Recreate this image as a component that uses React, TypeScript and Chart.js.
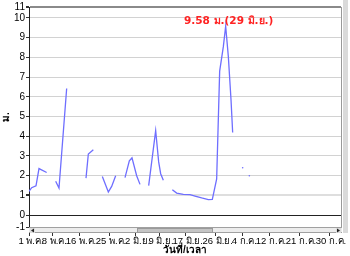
import React, { useEffect, useRef } from "react";
import { Chart, registerables } from "chart.js";

Chart.register(...registerables);

// days since 1 May (0 = 1 พ.ค.), null value = gap in record
const dayOffsets = [
  0, 0.8, 2.1, 3.0, 5.3, 6.5,
  8.0, 9.0, 11.3, 14,
  17.1, 17.8, 19.3, 20.5,
  22.0, 23.8, 24.8, 26.0, 27.5,
  28.8, 30.1, 30.9, 32.3, 33.3, 34.5,
  35.9, 38.0, 38.9, 39.5, 40.3, 41.5,
  43.0, 44.3, 46.3, 48.3, 49.8, 51.8, 53.8, 55.0, 56.3, 57.2, 58.3, 59.0, 59.8, 60.6, 61.1,
];
const waterLevels = [
  1.2, 1.39, 1.49, 2.36, 2.16, null,
  1.72, 1.37, 6.42, null,
  1.88, 3.1, 3.32, null,
  1.96, 1.17, 1.46, 2.0, null,
  1.9, 2.75, 2.9, 2.0, 1.56, null,
  1.5, 4.28, 2.7, 2.1, 1.77, null,
  1.29, 1.12, 1.05, 1.04, 0.97, 0.87, 0.79, 0.8, 1.84, 7.3, 8.54, 9.58, 8.04, 5.86, 4.19,
];
const isolatedDays = [64.1, 66.1];
const isolatedLevels = [2.4, 2.0];

const xTickDays = [0, 7, 15, 24, 32, 39, 47, 56, 64, 72, 81, 90];
const xTickLabels = [
  "1 พ.ค.", "8 พ.ค.", "16 พ.ค.", "25 พ.ค.", "2 มิ.ย.", "9 มิ.ย.",
  "17 มิ.ย.", "26 มิ.ย.", "4 ก.ค.", "12 ก.ค.", "21 ก.ค.", "30 ก.ค.",
];
const yTickValues = [-0.6, 0, 1, 2, 3, 4, 5, 6, 7, 8, 9, 10, 10.55];
const peakText = "9.58 ม.(29 มิ.ย.)";
const xTitle = "วันที่/เวลา";
const yTitle = "ม.";

const FONT = "Tahoma, 'Liberation Sans', Arial, sans-serif";
const FONT_WIDE = "'DejaVu Sans', Verdana, sans-serif";

const decorPlugin = {
  id: "decor",
  afterDraw(chart: any) {
    const ctx = chart.ctx;
    const ca = chart.chartArea;
    ctx.save();
    // right border
    ctx.strokeStyle = "#999";
    ctx.lineWidth = 1;
    ctx.beginPath();
    ctx.moveTo(ca.right + 0.5, ca.top);
    ctx.lineTo(ca.right + 0.5, ca.bottom);
    ctx.stroke();
    // vertical strip at right
    ctx.fillStyle = "#dadada";
    ctx.fillRect(ca.right + 2, 0, 5, ca.bottom + 6);
    // horizontal scrollbar
    const y0 = ca.bottom;
    ctx.fillStyle = "#ececec";
    ctx.fillRect(ca.left, y0, ca.right - ca.left + 1, 6);
    ctx.strokeStyle = "#a0a0a0";
    ctx.beginPath();
    ctx.moveTo(ca.left, y0 + 0.5);
    ctx.lineTo(ca.right + 1, y0 + 0.5);
    ctx.moveTo(ca.left, y0 + 5.5);
    ctx.lineTo(ca.right + 1, y0 + 5.5);
    ctx.stroke();
    // thumb
    ctx.fillStyle = "#c4c4c4";
    ctx.fillRect(137, y0 + 1, 76, 5);
    ctx.strokeStyle = "#9a9a9a";
    ctx.strokeRect(137.5, y0 + 1.5, 75, 4);
    // buttons
    ctx.fillStyle = "#dcdcdc";
    ctx.fillRect(ca.left + 1, y0 + 1, 5, 5);
    ctx.fillRect(ca.right - 5, y0 + 1, 5, 5);
    ctx.fillStyle = "#222";
    ctx.beginPath();
    ctx.moveTo(ca.left + 2, y0 + 3.5);
    ctx.lineTo(ca.left + 5, y0 + 1.5);
    ctx.lineTo(ca.left + 5, y0 + 5.5);
    ctx.fill();
    ctx.beginPath();
    ctx.moveTo(ca.right - 1, y0 + 3.5);
    ctx.lineTo(ca.right - 4, y0 + 1.5);
    ctx.lineTo(ca.right - 4, y0 + 5.5);
    ctx.fill();
    // peak annotation
    const meta = chart.getDatasetMeta(0);
    let best = -1;
    let bestV = -Infinity;
    waterLevels.forEach((v, i) => {
      if (v !== null && v > bestV) {
        bestV = v;
        best = i;
      }
    });
    if (best >= 0) {
      const pt = meta.data[best];
      ctx.fillStyle = "#ff2222";
      ctx.font = `bold 10.5px ${FONT_WIDE}`;
      ctx.textAlign = "center";
      ctx.textBaseline = "alphabetic";
      ctx.fillText(peakText, pt.x + 3, pt.y - 2);
    }
    ctx.restore();
  },
};

export default function App() {
  const ref = useRef<HTMLCanvasElement>(null);
  useEffect(() => {
    if (!ref.current) return;
    const mainData = dayOffsets.map((d, i) => ({ x: d, y: waterLevels[i] }));
    const dotData = isolatedDays.map((d, i) => ({ x: d, y: isolatedLevels[i] }));
    const chart = new Chart(ref.current, {
      type: "line",
      data: {
        datasets: [
          {
            data: mainData as any,
            borderColor: "#6e6eff",
            borderWidth: 1.3,
            pointRadius: 0,
            spanGaps: false,
            tension: 0,
          },
          {
            data: dotData as any,
            showLine: false,
            pointRadius: 0.8,
            pointBackgroundColor: "#6e6eff",
            pointBorderWidth: 0,
          },
        ],
      },
      plugins: [decorPlugin],
      options: {
        responsive: false,
        animation: false,
        events: [],
        layout: { padding: { top: 5, right: 9, left: 0, bottom: 0 } },
        plugins: { legend: { display: false }, tooltip: { enabled: false } },
        scales: {
          x: {
            type: "linear",
            min: 0,
            max: 93.6,
            afterBuildTicks: (s: any) => {
              s.ticks = xTickDays.map((v) => ({ value: v }));
            },
            afterFit: (s: any) => {
              s.height = 29;
            },
            ticks: {
              autoSkip: false,
              maxRotation: 0,
              minRotation: 0,
              padding: 0,
              labelOffset: 2,
              color: "#000",
              font: { family: FONT, size: 9.5 },
              callback: (_v: any, i: number) => xTickLabels[i],
            },
            grid: {
              drawOnChartArea: false,
              drawTicks: true,
              tickLength: 9,
              tickColor: "#333",
            },
            border: { display: false },
            title: {
              display: true,
              text: xTitle,
              color: "#000",
              padding: 0,
              font: { family: FONT, size: 10, weight: "bold", lineHeight: 1.1 },
            },
          },
          y: {
            min: -0.6,
            max: 10.55,
            afterBuildTicks: (s: any) => {
              s.ticks = yTickValues.map((v) => ({ value: v }));
            },
            afterFit: (s: any) => {
              s.width = 29;
            },
            ticks: {
              padding: 1,
              color: "#000",
              font: { family: FONT, size: 10 },
              callback: (v: any) => String(Math.round(Number(v))),
            },
            grid: {
              tickLength: 3,
              tickColor: "#333",
              color: (c: any) => {
                const v = c.tick ? c.tick.value : null;
                if (v === 0) return "#222";
                if (v === 10.55) return "#8a8a8a";
                if (v === -0.6) return "rgba(0,0,0,0)";
                if (v === 1) return "#dedede";
                return "#d2d2d2";
              },
              lineWidth: (c: any) => {
                const v = c.tick ? c.tick.value : null;
                if (v === 10.55) return 2;
                if (v === 1) return 2;
                return 1;
              },
            },
            border: { color: "#222" },
            title: {
              display: true,
              text: yTitle,
              color: "#000",
              padding: 0,
              font: { family: FONT, size: 10, weight: "bold" },
            },
          },
        },
      },
    });
    return () => chart.destroy();
  }, []);
  return (
    <div style={{ position: "absolute", left: 0, top: 0, width: 350, height: 256, background: "#fff" }}>
      <canvas ref={ref} width={350} height={256} style={{ display: "block" }} />
    </div>
  );
}
